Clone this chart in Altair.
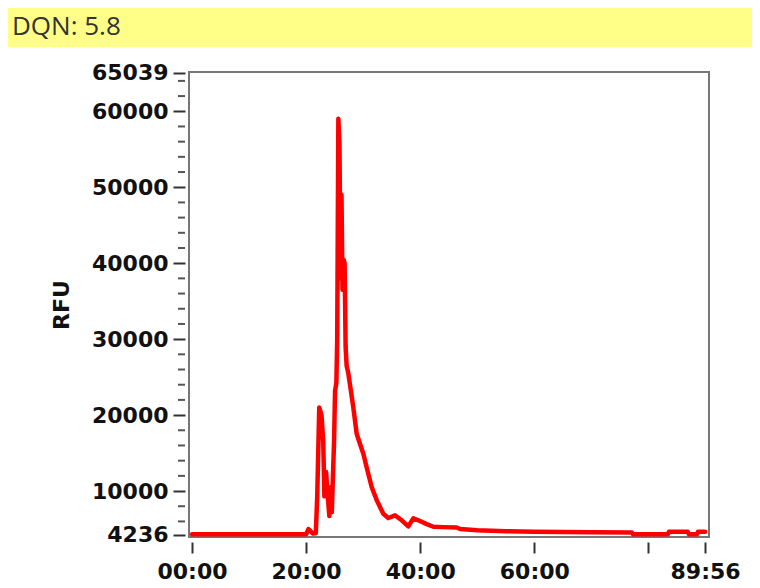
import altair as alt
import pandas as pd

# ---- data ----
banner_text = "DQN: 5.8"

time_min = [0, 5, 10, 15, 20, 20.4, 21.2, 21.7, 21.95, 22.3, 22.7, 23.0, 23.2, 23.5,
            23.72, 24.07, 24.3, 24.5, 24.9, 25.07, 25.3, 25.45, 25.65, 25.85, 26.03,
            26.2, 26.38, 26.56, 26.75, 26.92, 27.1, 27.4, 27.69, 28.27, 28.87, 29.45,
            30.03, 30.62, 31.5, 32.38, 33.53, 34.41, 35.58, 36.76, 37.91, 38.79, 39.67,
            41.14, 42.3, 44, 46.4, 47, 50, 55, 60, 65, 70, 77.1, 77.3, 83.4, 83.6,
            86.9, 87.1, 88.5, 88.7, 89.93]
rfu = [4300, 4300, 4300, 4300, 4310, 5000, 4400, 4450, 9400, 21000, 20000, 16500, 9300,
       12500, 10000, 6700, 10500, 7200, 16600, 23200, 24200, 30000, 59000, 55500, 38000,
       49000, 36500, 40500, 40000, 29000, 26500, 25500, 24000, 21000, 17500, 16200,
       14900, 13100, 10500, 8800, 7000, 6450, 6800, 6150, 5350, 6400, 6150,
       5650, 5300, 5250, 5200, 5000, 4850, 4700, 4650, 4600, 4580, 4530, 4300, 4300,
       4640, 4640, 4300, 4300, 4640, 4640]

y_major_ticks = [4236, 10000, 20000, 30000, 40000, 50000, 60000, 65039]
y_minor_ticks = [6000, 8000, 12000, 14000, 16000, 18000, 22000, 24000, 26000, 28000,
                 32000, 34000, 36000, 38000, 42000, 44000, 46000, 48000, 52000, 54000,
                 56000, 58000, 62000, 64000]
x_tick_values = [0, 20, 40, 60, 80, 89.9333]
x_tick_labels = ["00:00", "20:00", "40:00", "60:00", "", "89:56"]

x_domain = [-0.53, 90.62]
y_domain = [3950, 65170]

df = pd.DataFrame({"t": time_min, "rfu": rfu})
minor_df = pd.DataFrame({"rfu": y_minor_ticks})
banner_df = pd.DataFrame({"label": [banner_text]})

label_expr = ""
for v, lab in zip(x_tick_values, x_tick_labels):
    label_expr += f"abs(datum.value - {v}) < 0.01 ? '{lab}' : "
label_expr += "''"

W, H = 520, 465
PAD = {"left": 181, "top": 64, "right": 43, "bottom": 51}
FONT = "DejaVu Sans"

x_enc = alt.X(
    "t:Q",
    scale=alt.Scale(domain=x_domain, nice=False, zero=False),
    axis=alt.Axis(
        values=x_tick_values, labelExpr=label_expr, title=None, domain=False,
        grid=False, offset=5, tickSize=11, tickWidth=2, tickColor="#333",
        labelPadding=8, labelFont=FONT, labelFontWeight="bold", labelFontSize=22,
        labelColor="#111", labelFlush=False, labelOverlap=False,
    ),
)
y_axis = alt.Axis(
    values=y_major_ticks, format="d", title="RFU", domain=False, grid=False,
    offset=4, tickSize=12, tickWidth=2, tickColor="#333", labelPadding=5,
    labelFont=FONT, labelFontWeight="bold", labelFontSize=22, labelColor="#111",
    labelFlush=False, labelOverlap=False,
    titleFont=FONT, titleFontWeight="bold", titleFontSize=22, titleColor="#111",
    titlePadding=18,
)
y_scale = alt.Scale(domain=y_domain, nice=False, zero=False)

line = alt.Chart(df).mark_line(
    color="#ff0000", strokeWidth=4.5, strokeJoin="round", strokeCap="round"
).encode(x=x_enc, y=alt.Y("rfu:Q", scale=y_scale, axis=y_axis))

minor = alt.Chart(minor_df).mark_rule(color="#555", strokeWidth=2).encode(
    y=alt.Y("rfu:Q", scale=y_scale, axis=y_axis),
    x=alt.value(-11),
    x2=alt.value(-4),
)

banner_rect = alt.Chart(banner_df).mark_rect(color="#ffff88").encode(
    x=alt.value(-PAD["left"]),
    x2=alt.value(W + PAD["right"]),
    y=alt.value(-PAD["top"]),
    y2=alt.value(-PAD["top"] + 39),
)
banner_txt = alt.Chart(banner_df).mark_text(
    align="left", baseline="middle", font="Open Sans", fontSize=26, color="#333"
).encode(
    text="label:N",
    x=alt.value(-PAD["left"] + 4),
    y=alt.value(-45),
)

chart = alt.layer(line, minor, banner_rect, banner_txt).properties(
    width=W, height=H,
    autosize=alt.AutoSizeParams(type="none"),
    padding=PAD,
).configure_view(stroke="#777", strokeWidth=2)

chart.save("out.html", embed_options={"renderer": "svg", "actions": False})
